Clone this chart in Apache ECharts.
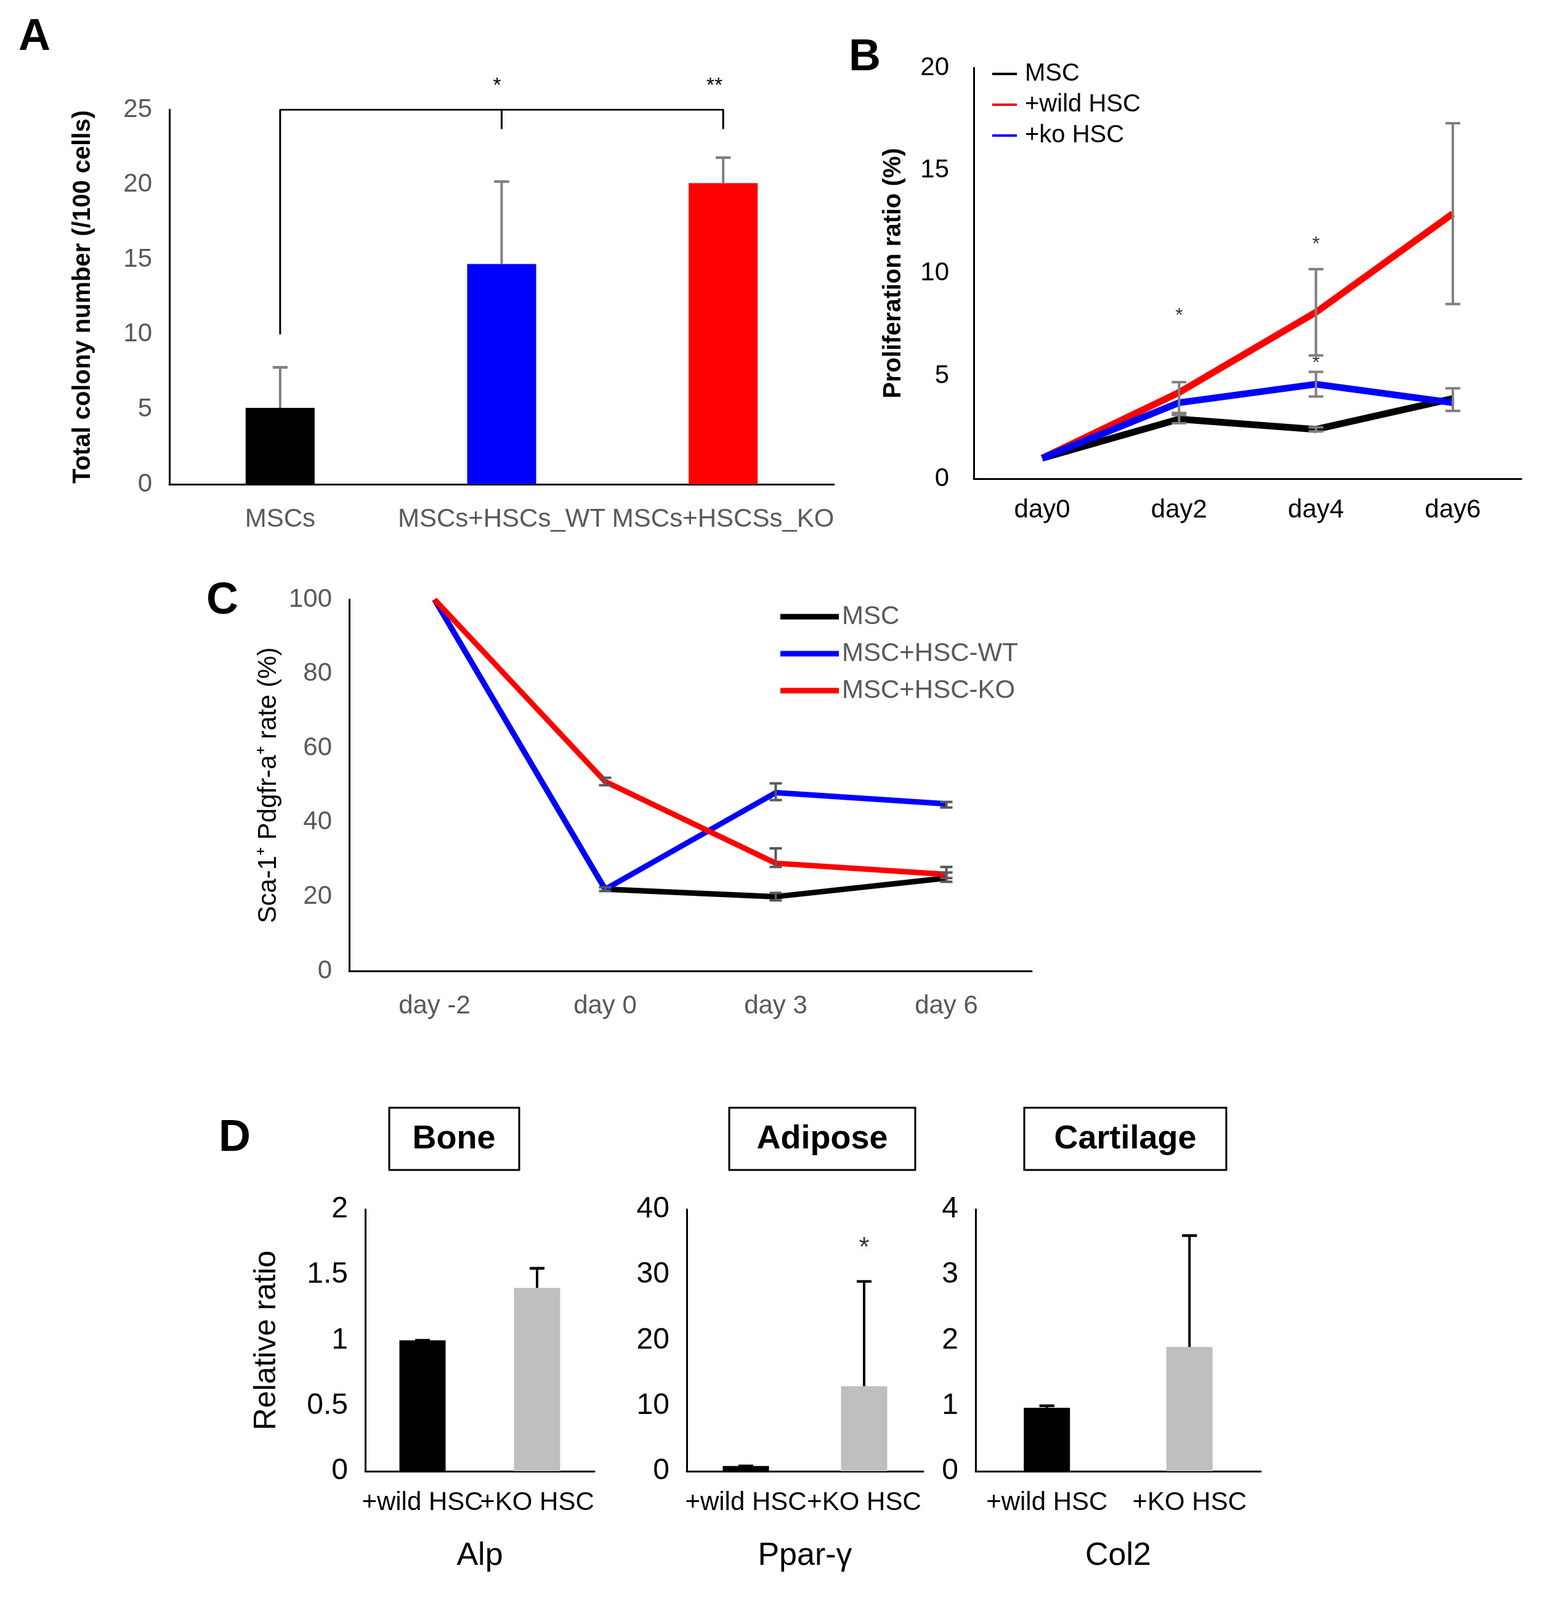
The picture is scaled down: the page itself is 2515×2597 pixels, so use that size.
<!DOCTYPE html>
<html>
<head>
<meta charset="utf-8">
<script src="https://cdn.jsdelivr.net/npm/echarts@6/dist/echarts.min.js"></script>
<style>html,body{margin:0;padding:0;background:#fff}#chart{width:2515px;height:2597px}</style>
</head>
<body>
<div id="chart"></div>
<script>
// 数据 A
const aCats = ['MSCs', 'MSCs+HSCs_WT', 'MSCs+HSCSs_KO'];
const aVals = [5.1, 14.7, 20.1];
const aErrTop = [7.8, 20.2, 21.8];
const aColors = ['#000000', '#0000ff', '#ff0000'];
// 数据 B
const bDays = ['day0', 'day2', 'day4', 'day6'];
const bMsc = [1, 2.9, 2.4, 3.9];
const bWild = [1, 4.2, 8.1, 12.9];
const bKo = [1, 3.7, 4.6, 3.7];
const bErrs = [[1, 2.7, 3.2], [1, 3.1, 4.7], [2, 6.0, 10.2], [2, 4.0, 5.2], [3, 8.5, 17.3], [3, 3.3, 4.4], [2, 2.3, 2.5]];
const bStars = [[1, 7.9, '*'], [2, 11.4, '*'], [2, 5.6, '*']];
// 数据 C
const cDays = ['day -2', 'day 0', 'day 3', 'day 6'];
const cMsc = [100, 22, 20, 25];
const cWt = [100, 22, 48, 45];
const cKo = [100, 51, 29, 26];
const cErrs = [[1, 21.5, 22.5], [2, 19, 21], [3, 24, 26.5], [1, 50, 52], [2, 46, 50.5], [3, 44, 45.5], [2, 28, 33], [3, 25, 28]];
// 数据 D
const dCats = ['+wild HSC', '+KO HSC'];
const alp = [1, 1.4], alpErr = [1, 1.55];
const ppar = [0.8, 13], pparErr = [0.8, 29];
const col2 = [0.97, 1.9], col2Err = [1, 3.6];

const chart = echarts.init(document.getElementById('chart'));
const grey = '#595959';
const font = 'Arial, Liberation Sans, sans-serif';

const errSeries = (xi, yi, data, capW, color) => ({
    type: 'custom', xAxisIndex: xi, yAxisIndex: yi, data: data, z: 5,
    renderItem: (params, api) => {
        const lo = api.coord([api.value(0), api.value(1)]);
        const hi = api.coord([api.value(0), api.value(2)]);
        const st = { stroke: color || '#7f7f7f', lineWidth: 4 };
        return { type: 'group', children: [
            { type: 'line', shape: { x1: lo[0], y1: lo[1], x2: hi[0], y2: hi[1] }, style: st },
            { type: 'line', shape: { x1: hi[0] - capW, y1: hi[1], x2: hi[0] + capW, y2: hi[1] }, style: st },
            { type: 'line', shape: { x1: lo[0] - capW, y1: lo[1], x2: lo[0] + capW, y2: lo[1] }, style: st }
        ] };
    }
});

const valAxis = (gi, max, interval, name, nameGap, extra) => Object.assign({
    type: 'value', gridIndex: gi, min: 0, max: max, interval: interval,
    splitLine: { show: false }, axisTick: { show: false },
    axisLine: { show: true, lineStyle: { color: '#000', width: 3 } },
    axisLabel: { color: grey, fontSize: 42, fontFamily: font, margin: 28 },
    name: name, nameLocation: 'middle', nameGap: nameGap, nameRotate: 90,
    nameTextStyle: { color: '#000', fontSize: 40, fontFamily: font }
}, extra || {});

const catAxis = (gi, data, extra) => Object.assign({
    type: 'category', gridIndex: gi, data: data,
    axisTick: { show: false },
    axisLine: { lineStyle: { color: '#000', width: 3 } },
    axisLabel: { color: '#000', fontSize: 40, fontFamily: font, margin: 30, interval: 0 }
}, extra || {});

const dName = (n) => ({ name: n, nameLocation: 'middle', nameGap: 112, nameTextStyle: { fontSize: 52, fontFamily: font, color: '#000' },
    axisLabel: { color: '#000', fontSize: 42, fontFamily: font, margin: 30, interval: 0 } });

const option = {
    animation: false,
    backgroundColor: '#fff',
    grid: [
        { left: 275, top: 178, width: 1079, height: 608 },
        { left: 1581, top: 110, width: 889, height: 667 },
        { left: 567, top: 973, width: 1108, height: 603 },
        { left: 593, top: 1963, width: 372, height: 425 },
        { left: 1115, top: 1963, width: 384, height: 425 },
        { left: 1584, top: 1963, width: 463, height: 425 }
    ],
    xAxis: [
        catAxis(0, aCats, { axisLabel: { color: grey, fontSize: 42, fontFamily: font, margin: 36, interval: 0 } }),
        catAxis(1, bDays, { axisLabel: { color: '#000', fontSize: 42, fontFamily: font, margin: 30, interval: 0 } }),
        catAxis(2, cDays, { axisLabel: { color: grey, fontSize: 42, fontFamily: font, margin: 36, interval: 0 } }),
        catAxis(3, dCats, dName('Alp')),
        catAxis(4, dCats, dName('Ppar-γ')),
        catAxis(5, dCats, dName('Col2'))
    ],
    yAxis: [
        valAxis(0, 25, 5, 'Total colony number (/100 cells)', 120, { nameTextStyle: { color: '#000', fontSize: 40, fontWeight: 'bold', fontFamily: font } }),
        valAxis(1, 20, 5, 'Proliferation ratio (%)', 110, { nameTextStyle: { color: '#000', fontSize: 40, fontWeight: 'bold', fontFamily: font }, axisLabel: { color: '#000', fontSize: 42, fontFamily: font, margin: 40 } }),
        valAxis(2, 100, 20, 'Sca-1⁺ Pdgfr-a⁺ rate (%)', 110, { nameTextStyle: { color: '#000', fontSize: 42, fontFamily: font } }),
        valAxis(3, 2, 0.5, 'Relative ratio', 135, { axisLabel: { color: '#000', fontSize: 48, fontFamily: font, margin: 28 }, nameTextStyle: { color: '#000', fontSize: 50, fontFamily: font } }),
        valAxis(4, 40, 10, '', 0, { axisLabel: { color: '#000', fontSize: 48, fontFamily: font, margin: 28 } }),
        valAxis(5, 4, 1, '', 0, { axisLabel: { color: '#000', fontSize: 48, fontFamily: font, margin: 28 } })
    ],
    legend: [
        { data: ['MSC', '+wild HSC', '+ko HSC'], orient: 'vertical', left: 1606, top: 95, itemWidth: 40, itemHeight: 4, itemGap: 10, icon: 'rect',
          textStyle: { fontSize: 40, fontFamily: font, color: '#000', padding: [0, 0, 0, 8] } },
        { data: ['MSC ', 'MSC+HSC-WT', 'MSC+HSC-KO'], orient: 'vertical', left: 1262, top: 975, itemWidth: 95, itemHeight: 9, itemGap: 18, icon: 'rect',
          textStyle: { fontSize: 42, fontFamily: font, color: grey } }
    ],
    graphic: [
        { type: 'text', left: 30, top: 25, style: { text: 'A', fontSize: 72, fontWeight: 'bold', fontFamily: font, fill: '#000' } },
        { type: 'text', left: 1378, top: 58, style: { text: 'B', fontSize: 72, fontWeight: 'bold', fontFamily: font, fill: '#000' } },
        { type: 'text', left: 335, top: 940, style: { text: 'C', fontSize: 72, fontWeight: 'bold', fontFamily: font, fill: '#000' } },
        { type: 'text', left: 355, top: 1812, style: { text: 'D', fontSize: 72, fontWeight: 'bold', fontFamily: font, fill: '#000' } },
        { type: 'text', x: 807, y: 140, style: { text: '*', fontSize: 34, fontFamily: font, fill: '#000', textAlign: 'center', textVerticalAlign: 'middle' } },
        { type: 'text', x: 1160, y: 140, style: { text: '**', fontSize: 34, fontFamily: font, fill: '#000', textAlign: 'center', textVerticalAlign: 'middle' } },
        { type: 'rect', shape: { x: 632, y: 1798, width: 211, height: 101 }, style: { fill: '#fff', stroke: '#000', lineWidth: 3 } },
        { type: 'text', x: 737, y: 1849, style: { text: 'Bone', fontSize: 54, fontWeight: 'bold', fontFamily: font, fill: '#000', textAlign: 'center', textVerticalAlign: 'middle' } },
        { type: 'rect', shape: { x: 1184, y: 1798, width: 302, height: 101 }, style: { fill: '#fff', stroke: '#000', lineWidth: 3 } },
        { type: 'text', x: 1335, y: 1849, style: { text: 'Adipose', fontSize: 54, fontWeight: 'bold', fontFamily: font, fill: '#000', textAlign: 'center', textVerticalAlign: 'middle' } },
        { type: 'rect', shape: { x: 1663, y: 1798, width: 328, height: 101 }, style: { fill: '#fff', stroke: '#000', lineWidth: 3 } },
        { type: 'text', x: 1827, y: 1849, style: { text: 'Cartilage', fontSize: 54, fontWeight: 'bold', fontFamily: font, fill: '#000', textAlign: 'center', textVerticalAlign: 'middle' } }
    ],
    series: [
        // A
        { type: 'bar', xAxisIndex: 0, yAxisIndex: 0, barWidth: 112,
          data: aVals.map((v, i) => ({ value: v, itemStyle: { color: aColors[i] } })) },
        errSeries(0, 0, aVals.map((v, i) => [i, v, aErrTop[i]]), 0, '#7f7f7f'),
        errSeries(0, 0, aVals.map((v, i) => [i, aErrTop[i], aErrTop[i]]), 12, '#7f7f7f'),
        { type: 'line', xAxisIndex: 0, yAxisIndex: 0, data: [[0, 10], [0, 25], [2, 25], [2, 23.7]], symbol: 'none',
          lineStyle: { color: '#000', width: 3 }, z: 6 },
        { type: 'line', xAxisIndex: 0, yAxisIndex: 0, data: [[1, 25], [1, 23.7]], symbol: 'none',
          lineStyle: { color: '#000', width: 3 }, z: 6 },
        // B
        errSeries(1, 1, bErrs, 12, '#7f7f7f'),
        { name: 'MSC', type: 'line', xAxisIndex: 1, yAxisIndex: 1, data: bMsc, symbol: 'none', lineStyle: { color: '#000', width: 11 }, itemStyle: { color: '#000' } },
        { name: '+wild HSC', type: 'line', xAxisIndex: 1, yAxisIndex: 1, data: bWild, symbol: 'none', lineStyle: { color: '#ff0000', width: 11 }, itemStyle: { color: '#ff0000' } },
        { name: '+ko HSC', type: 'line', xAxisIndex: 1, yAxisIndex: 1, data: bKo, symbol: 'none', lineStyle: { color: '#0000ff', width: 11 }, itemStyle: { color: '#0000ff' } },
        { type: 'scatter', xAxisIndex: 1, yAxisIndex: 1, symbolSize: 0, data: bStars,
          label: { show: true, formatter: p => p.data[2], fontSize: 32, color: '#000', fontFamily: font } },
        // C
        errSeries(2, 2, cErrs, 10, '#595959'),
        { name: 'MSC ', type: 'line', xAxisIndex: 2, yAxisIndex: 2, data: cMsc, symbol: 'none', lineStyle: { color: '#000', width: 9 }, itemStyle: { color: '#000' } },
        { name: 'MSC+HSC-WT', type: 'line', xAxisIndex: 2, yAxisIndex: 2, data: cWt, symbol: 'none', lineStyle: { color: '#0000ff', width: 9 }, itemStyle: { color: '#0000ff' } },
        { name: 'MSC+HSC-KO', type: 'line', xAxisIndex: 2, yAxisIndex: 2, data: cKo, symbol: 'none', lineStyle: { color: '#ff0000', width: 9 }, itemStyle: { color: '#ff0000' } },
        // D
        { type: 'bar', xAxisIndex: 3, yAxisIndex: 3, barWidth: 75, data: alp.map((v, i) => ({ value: v, itemStyle: { color: i ? '#bfbfbf' : '#000' } })) },
        errSeries(3, 3, alp.map((v, i) => [i, v, alpErr[i]]), 0, '#000'),
        errSeries(3, 3, alp.map((v, i) => [i, alpErr[i], alpErr[i]]), 12, '#000'),
        { type: 'bar', xAxisIndex: 4, yAxisIndex: 4, barWidth: 75, data: ppar.map((v, i) => ({ value: v, itemStyle: { color: i ? '#bfbfbf' : '#000' } })) },
        errSeries(4, 4, ppar.map((v, i) => [i, v, pparErr[i]]), 0, '#000'),
        errSeries(4, 4, ppar.map((v, i) => [i, pparErr[i], pparErr[i]]), 12, '#000'),
        { type: 'scatter', xAxisIndex: 4, yAxisIndex: 4, symbolSize: 0, data: [[1, 34, '*']],
          label: { show: true, formatter: p => p.data[2], fontSize: 44, color: '#000', fontFamily: font } },
        { type: 'bar', xAxisIndex: 5, yAxisIndex: 5, barWidth: 75, data: col2.map((v, i) => ({ value: v, itemStyle: { color: i ? '#bfbfbf' : '#000' } })) },
        errSeries(5, 5, col2.map((v, i) => [i, v, col2Err[i]]), 0, '#000'),
        errSeries(5, 5, col2.map((v, i) => [i, col2Err[i], col2Err[i]]), 12, '#000')
    ]
};
chart.setOption(option);
</script>
</body>
</html>
